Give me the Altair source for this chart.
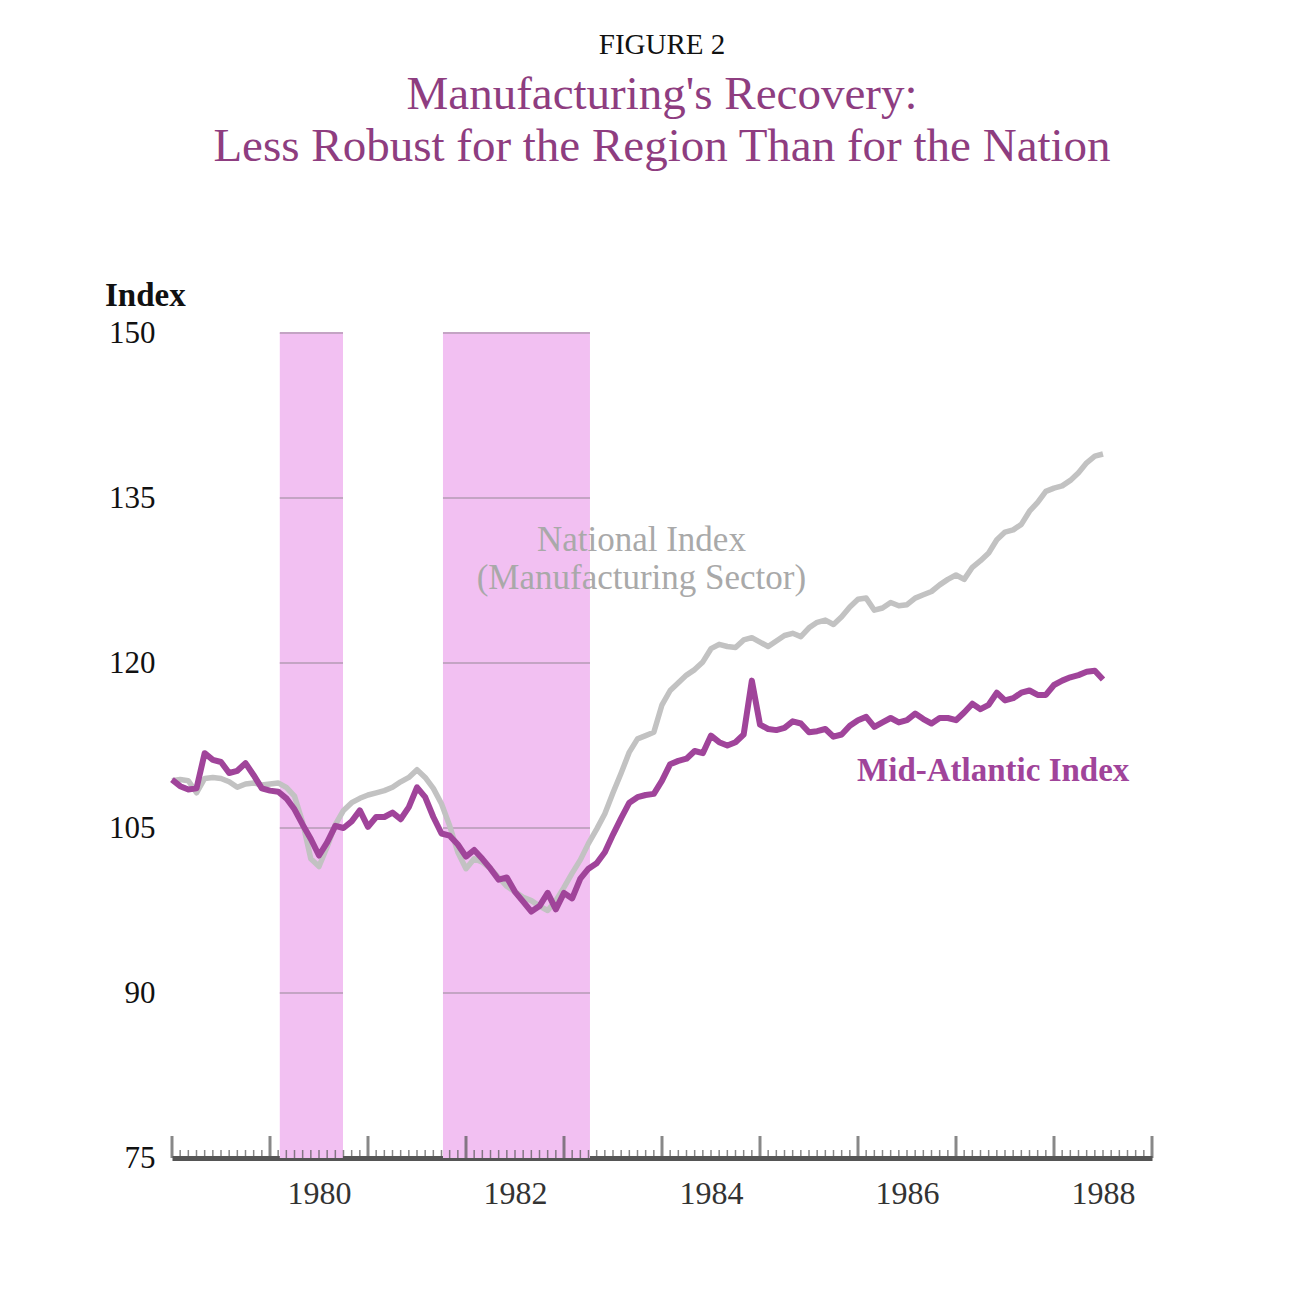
import altair as alt
import pandas as pd

# ---------------- data ----------------
start_year = 1979
mid_atlantic = [
    109.4, 108.8, 108.5, 108.6, 111.8, 111.2, 111.0, 110.0, 110.2, 110.9, 109.8, 108.6,
    108.4, 108.3, 107.7, 106.7, 105.3, 104.0, 102.5, 103.7, 105.2, 105.0, 105.6, 106.6,
    105.1, 106.0, 106.0, 106.4, 105.8, 106.9, 108.7, 107.8, 106.0, 104.5, 104.3, 103.5,
    102.4, 103.0, 102.2, 101.3, 100.3, 100.5, 99.2, 98.3, 97.4, 97.9, 99.1, 97.6,
    99.1, 98.6, 100.4, 101.3, 101.8, 102.8, 104.4, 105.9, 107.3, 107.8, 108.0, 108.1,
    109.3, 110.8, 111.1, 111.3, 112.0, 111.8, 113.4, 112.8, 112.5, 112.8, 113.5, 118.4,
    114.4, 114.0, 113.9, 114.1, 114.7, 114.5, 113.7, 113.8, 114.0, 113.3, 113.5, 114.3,
    114.8, 115.1, 114.2, 114.6, 115.0, 114.6, 114.8, 115.4, 114.9, 114.5, 115.0, 115.0,
    114.8, 115.5, 116.3, 115.8, 116.2, 117.3, 116.6, 116.8, 117.3, 117.5, 117.1, 117.1,
    118.0, 118.4, 118.7, 118.9, 119.2, 119.3, 118.5,
]
national = [
    109.3, 109.4, 109.3, 108.2, 109.5, 109.6, 109.5, 109.2, 108.7, 109.0, 109.1, 108.9,
    109.0, 109.1, 108.7, 107.9, 105.5, 102.2, 101.5, 103.3, 105.3, 106.6, 107.3, 107.7,
    108.0, 108.2, 108.4, 108.7, 109.2, 109.6, 110.3, 109.6, 108.6, 107.2, 105.2, 102.8,
    101.3, 102.2, 101.9, 101.3, 100.5, 99.7, 99.2, 98.7, 98.4, 97.9, 97.5, 98.4,
    99.6, 100.9, 102.1, 103.6, 104.9, 106.3, 108.2, 110.0, 111.9, 113.1, 113.4, 113.7,
    116.2, 117.5, 118.2, 118.9, 119.4, 120.1, 121.3, 121.7, 121.5, 121.4, 122.1, 122.3,
    121.9, 121.5, 122.0, 122.5, 122.7, 122.4, 123.2, 123.7, 123.9, 123.5, 124.2, 125.1,
    125.8, 125.9, 124.8, 125.0, 125.5, 125.2, 125.3, 125.9, 126.2, 126.5, 127.1, 127.6,
    128.0, 127.6, 128.7, 129.3, 130.0, 131.2, 131.9, 132.1, 132.6, 133.8, 134.6, 135.6,
    135.9, 136.1, 136.6, 137.3, 138.2, 138.8, 139.0,
]
band_start = [1980.10, 1981.765]
band_end = [1980.745, 1983.265]
grid_levels = [90, 105, 120, 135, 150]
y_ticks = [75, 90, 105, 120, 135, 150]
label_years = [1980, 1982, 1984, 1986, 1988]
axis_years = list(range(1979, 1990))

# ---------------- tables ----------------
months = [start_year + i / 12 for i in range(len(mid_atlantic))]
series = pd.DataFrame({"t": months, "mid": mid_atlantic, "nat": national})
bands = pd.DataFrame({"s": band_start, "e": band_end})
grid = pd.DataFrame(
    [{"s": s, "e": e, "v": v} for s, e in zip(band_start, band_end) for v in grid_levels]
)
minor = pd.DataFrame(
    {"t": [y + m / 12 for y in axis_years[:-1] for m in range(1, 12)]}
)
major = pd.DataFrame({"t": axis_years})

# ---------------- scales / axes ----------------
SERIF = "Liberation Serif"
xscale = alt.Scale(domain=[1979, 1989], nice=False, zero=False)
yscale = alt.Scale(domain=[75, 150], nice=False, zero=False)
xaxis = alt.Axis(
    values=[y + 0.5 for y in label_years],
    labelExpr="floor(datum.value)",
    title=None,
    grid=False,
    ticks=False,
    domain=True,
    domainColor="#555555",
    domainWidth=5,
    labelFont=SERIF,
    labelFontSize=32,
    labelColor="#333333",
    labelPadding=20,
)
yaxis = alt.Axis(
    values=y_ticks,
    title=None,
    grid=False,
    ticks=False,
    domain=False,
    labelFont=SERIF,
    labelFontSize=31,
    labelColor="#111111",
    labelPadding=17,
)


def X(field, **kw):
    return alt.X(field, type="quantitative", scale=xscale, axis=xaxis, **kw)


def Y(field, **kw):
    return alt.Y(field, type="quantitative", scale=yscale, axis=yaxis, **kw)


band_layer = alt.Chart(bands).mark_rect(color="#f2c0f2").encode(
    x=X("s"), x2="e",
    y=alt.Y(datum=150, type="quantitative", scale=yscale, axis=yaxis),
    y2=alt.Y2(datum=75),
)

grid_layer = alt.Chart(grid).mark_rule(color="#c4a4c4", strokeWidth=2).encode(
    x=X("s"), x2="e", y=Y("v")
)

nat_layer = alt.Chart(series).mark_line(
    color="#c2c2c2", strokeWidth=5.5, strokeJoin="round"
).encode(x=X("t"), y=Y("nat"))

mid_layer = alt.Chart(series).mark_line(
    color="#a0449a", strokeWidth=6, strokeJoin="round"
).encode(x=X("t"), y=Y("mid"))

minor_layer = alt.Chart(minor).mark_tick(
    orient="vertical", size=8, thickness=1.5, yOffset=-4, color="#555555"
).encode(x=X("t"), y=alt.Y(datum=75, type="quantitative", scale=yscale, axis=yaxis))

major_layer = alt.Chart(major).mark_tick(
    orient="vertical", size=22, thickness=3, yOffset=-11, color="#555555"
).encode(x=X("t"), y=alt.Y(datum=75, type="quantitative", scale=yscale, axis=yaxis))

nat_text = alt.Chart().mark_text(
    font=SERIF, fontSize=35, color="#a9a9a9", lineHeight=38, align="center", baseline="middle"
).encode(
    x=alt.X(datum=1983.79, type="quantitative", scale=xscale, axis=xaxis),
    y=alt.Y(datum=131.2, type="quantitative", scale=yscale, axis=yaxis),
    text=alt.value(["National Index", "(Manufacturing Sector)"]),
)

mid_text = alt.Chart().mark_text(
    font=SERIF, fontSize=33, fontWeight="bold", color="#a0449a", align="center", baseline="middle"
).encode(
    x=alt.X(datum=1987.38, type="quantitative", scale=xscale, axis=xaxis),
    y=alt.Y(datum=110.2, type="quantitative", scale=yscale, axis=yaxis),
    text=alt.value("Mid-Atlantic Index"),
)

index_text = alt.Chart().mark_text(
    font=SERIF, fontSize=33, fontWeight="bold", color="#111111", align="left", baseline="middle"
).encode(x=alt.value(-67), y=alt.value(-37), text=alt.value("Index"))

chart = alt.layer(
    band_layer, grid_layer, nat_layer, mid_layer, minor_layer, major_layer,
    nat_text, mid_text, index_text,
).properties(
    width=980,
    height=825,
    autosize=alt.AutoSizeParams(type="none"),
    padding={"left": 164, "top": 325, "right": 129, "bottom": 115},
    view=alt.ViewBackground(strokeOpacity=0, strokeWidth=0),
    title=alt.TitleParams(
        text="FIGURE 2",
        subtitle=["Manufacturing's Recovery:", "Less Robust for the Region Than for the Nation"],
        anchor="middle",
        font=SERIF,
        fontSize=29,
        fontWeight="normal",
        color="#111111",
        subtitleFont=SERIF,
        subtitleFontSize=47,
        subtitleColor="#8e3d80",
        subtitleLineHeight=52,
        subtitlePadding=12,
        offset=110,
    ),
).configure_view(strokeOpacity=0, strokeWidth=0).configure(background="white")

chart.save("out.html", embed_options={"renderer": "svg", "actions": False})
